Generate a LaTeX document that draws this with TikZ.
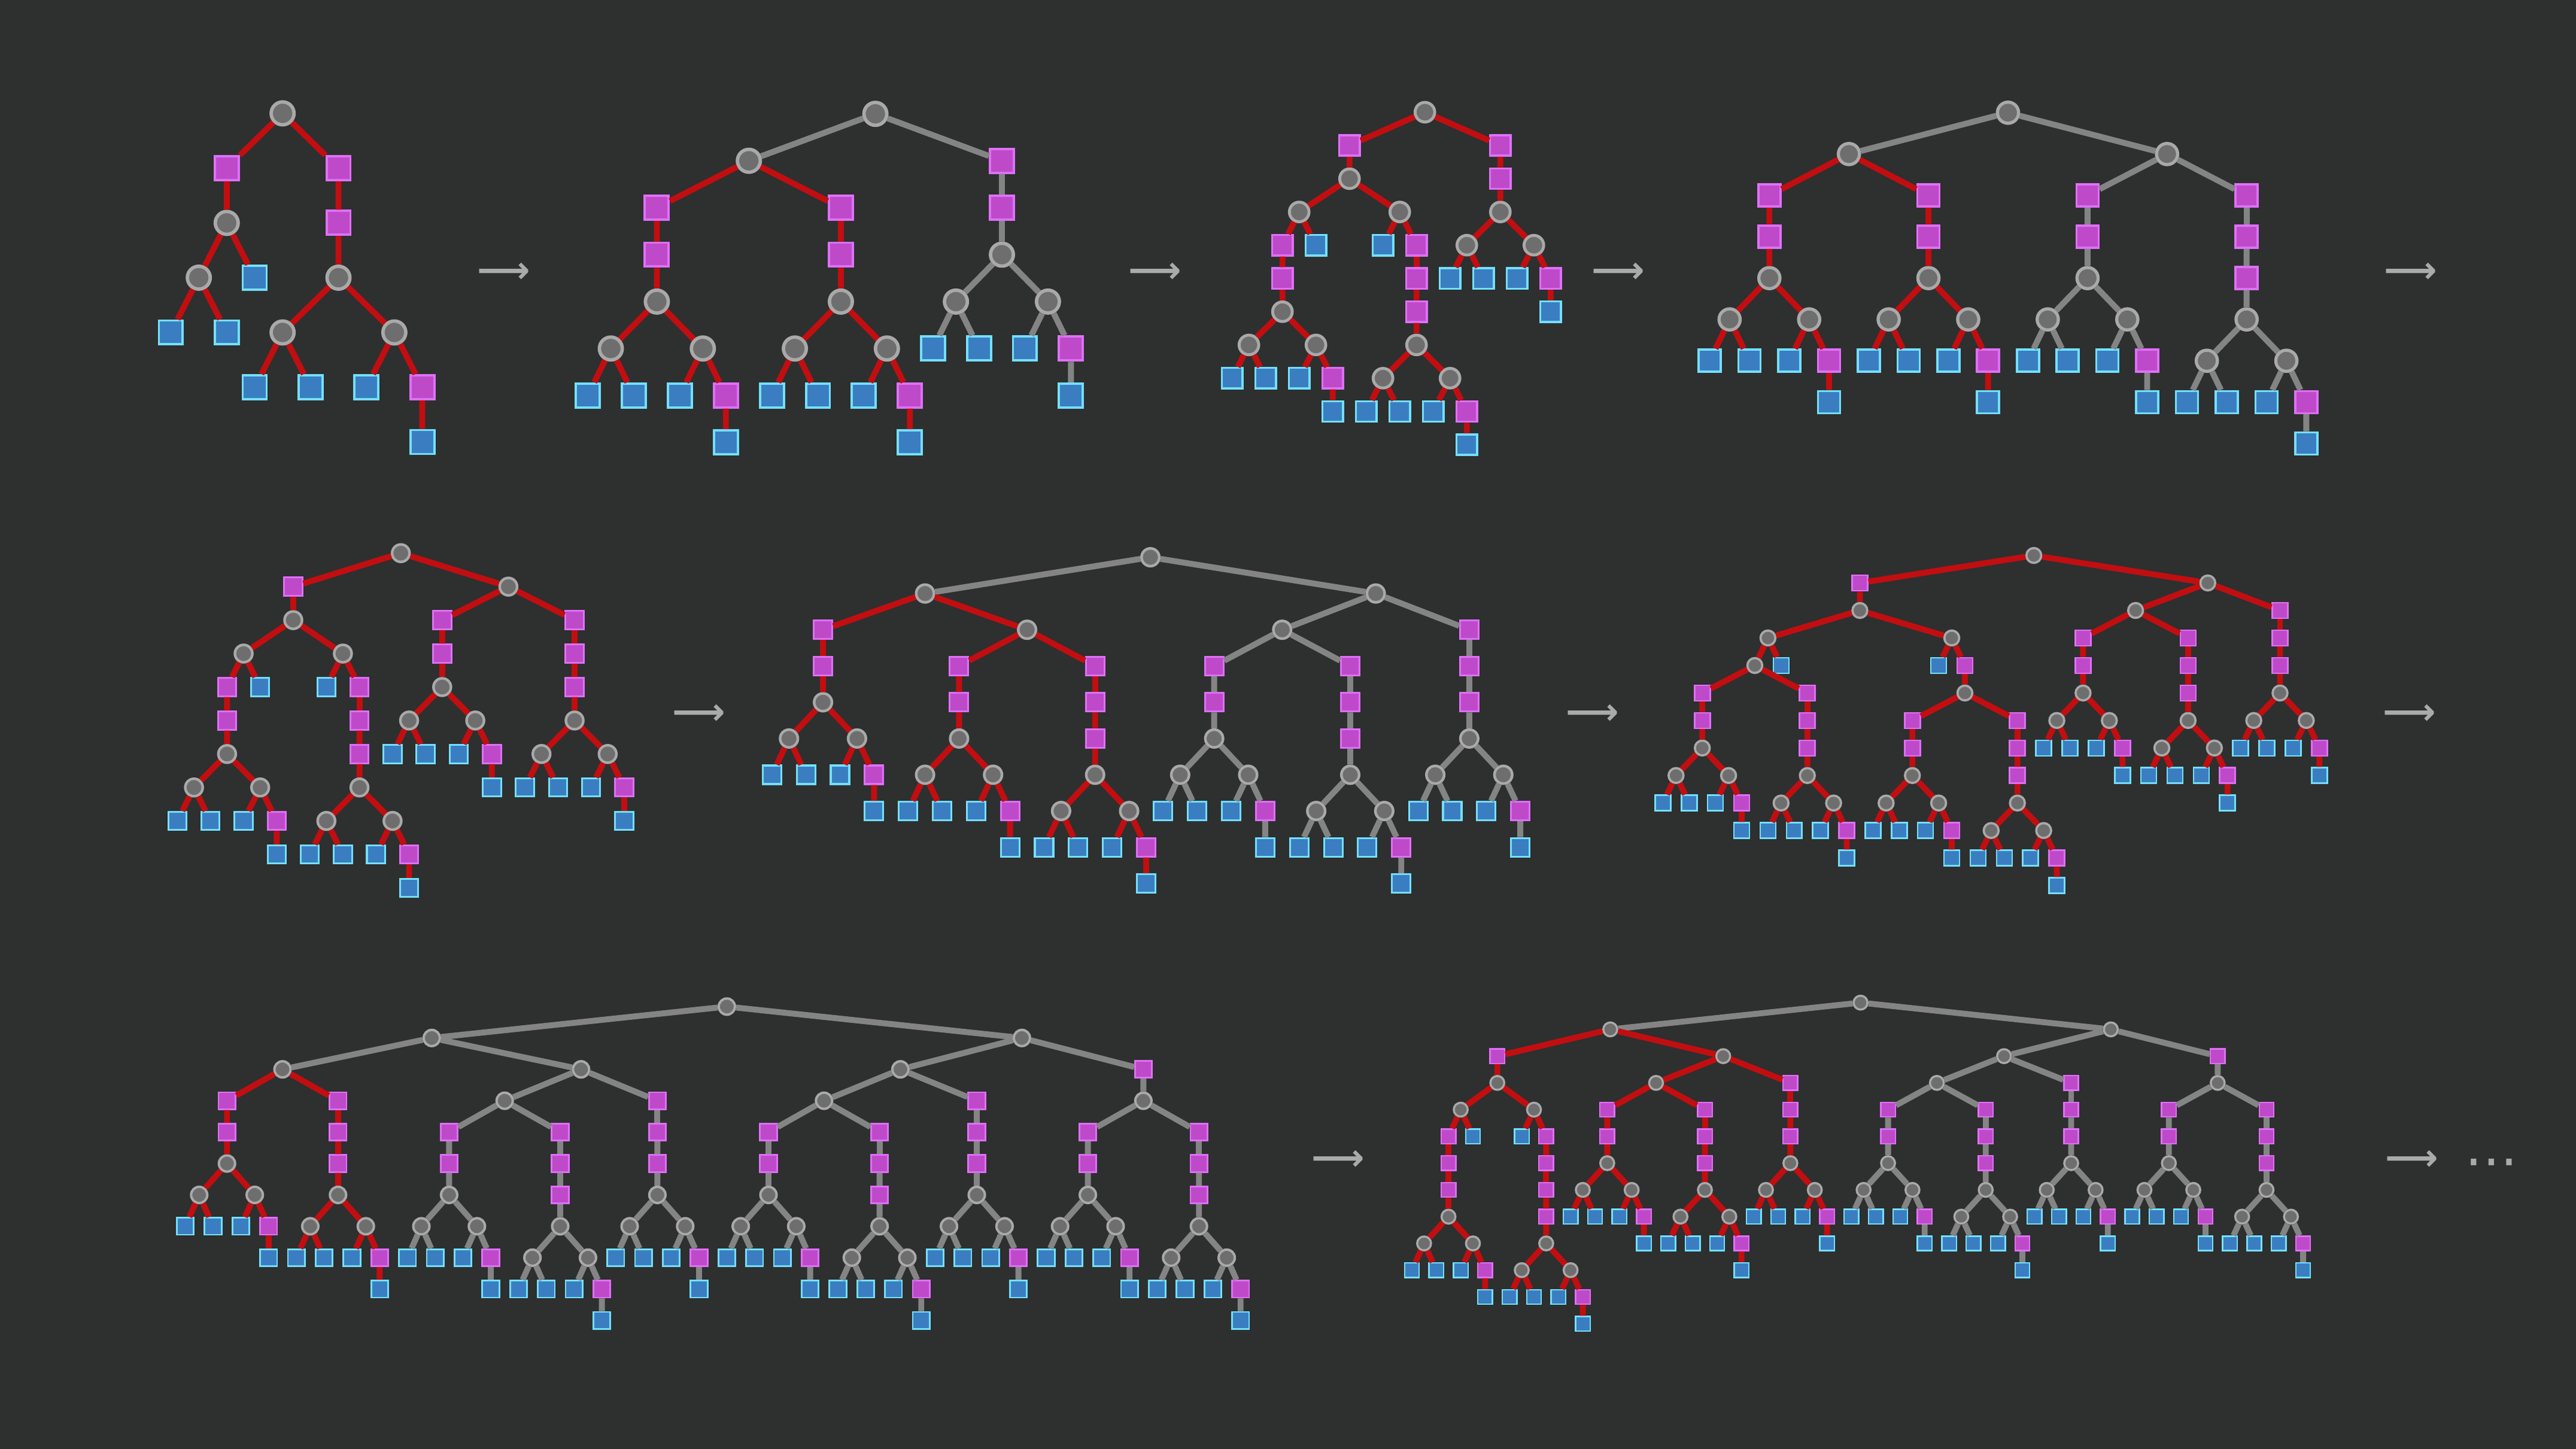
\documentclass[tikz,border=0pt]{standalone}
\usepackage{fontspec}
\newfontfamily\arrowfont{DejaVu Sans}

\definecolor{bgc}{HTML}{2E2F2F}
\definecolor{cnfill}{HTML}{6E6E6E}
\definecolor{cnline}{HTML}{A9A9A9}
\definecolor{mfill}{HTML}{BF4AC9}
\definecolor{mline}{HTML}{DD71F9}
\definecolor{bfill}{HTML}{3A7EC1}
\definecolor{bline}{HTML}{73E0FF}
\definecolor{redc}{HTML}{C10E11}
\definecolor{grayc}{HTML}{848484}
\definecolor{arrowc}{HTML}{AAAAAA}

\tikzset{
  nodesize/.store in=\sz, nodesize=4mm,
  cn/.style={circle, draw=cnline, fill=cnfill, line width=0.13*\sz, minimum size=0.87*\sz, inner sep=0pt},
  mn/.style={rectangle, draw=mline, fill=mfill, line width=0.09*\sz, minimum size=0.91*\sz, inner sep=0pt},
  bn/.style={rectangle, draw=bline, fill=bfill, line width=0.09*\sz, minimum size=0.91*\sz, inner sep=0pt},
  redge/.style={draw=redc, line width=0.09cm},
  gedge/.style={draw=grayc, line width=0.09cm},
  arrowtxt/.style={text=arrowc, font=\arrowfont\bfseries\fontsize{16}{16}\selectfont, inner sep=0pt},
  dotstxt/.style={text=arrowc, font=\arrowfont\fontsize{23}{23}\selectfont, inner sep=0pt}
}

% the repeated block: two squares, a circle and its two small forks
\newcommand\ysub[4]{%
  \node[mn] (#1a) at (#2,#3) {};
  \node[mn] (#1b) at (#2,#3+1) {};
  \node[cn] (#1c) at (#2,#3+2) {};
  \node[cn] (#1d) at (#2-2,#3+3) {};
  \node[bn] (#1e) at (#2-3,#3+4) {};
  \node[bn] (#1f) at (#2-1,#3+4) {};
  \node[cn] (#1g) at (#2+2,#3+3) {};
  \node[bn] (#1h) at (#2+1,#3+4) {};
  \node[mn] (#1i) at (#2+3,#3+4) {};
  \node[bn] (#1j) at (#2+3,#3+5) {};
  \draw[#4] (#1a) -- (#1b) -- (#1c) -- (#1d) -- (#1e) (#1d) -- (#1f)
    (#1c) -- (#1g) -- (#1h) (#1g) -- (#1i) -- (#1j);
}
% the same block with one more square on top
\newcommand\mysub[4]{%
  \node[mn] (#1m) at (#2,#3) {};
  \ysub{#1}{#2}{#3+1}{#4}
  \draw[#4] (#1m) -- (#1a);
}

\begin{document}
\begin{tikzpicture}[x=0.025cm, y=-0.025cm]
\path[use as bounding box, fill=bgc] (0,0) rectangle (1568,882);

% row 1
\begin{scope}[shift={(104,69)}, x=0.425cm, y=-0.8333cm, nodesize=4mm]
\node[cn] (t1r) at (4,0) {};
\node[mn] (t1a) at (2,1) {};
\node[cn] (t1b) at (2,2) {};
\node[cn] (t1c) at (1,3) {};
\node[bn] (t1d) at (0,4) {};
\node[bn] (t1e) at (2,4) {};
\node[bn] (t1f) at (3,3) {};
\ysub{t1p}{6}{1}{redge}
\draw[redge] (t1r) -- (t1a) -- (t1b) -- (t1c) -- (t1d) (t1c) -- (t1e) (t1b) -- (t1f) (t1r) -- (t1pa);
\end{scope}

\begin{scope}[shift={(357.8,69.3)}, x=0.35cm, y=-0.714cm, nodesize=4mm]
\node[cn] (t2r) at (12.5,0) {};
\node[cn] (t2l) at (7,1) {};
\ysub{t2p}{3}{2}{redge}
\ysub{t2q}{11}{2}{redge}
\ysub{t2s}{18}{1}{gedge}
\draw[gedge] (t2r) -- (t2l) (t2r) -- (t2sa);
\draw[redge] (t2l) -- (t2pa) (t2l) -- (t2qa);
\end{scope}

\begin{scope}[shift={(750,68.3)}, x=0.255cm, y=-0.5058cm, nodesize=3.43mm]
\node[cn] (t3r) at (11.5,0) {};
\node[mn] (t3a) at (7,1) {};
\node[cn] (t3b) at (7,2) {};
\node[cn] (t3c) at (4,3) {};
\node[cn] (t3d) at (10,3) {};
\node[bn] (t3e) at (5,4) {};
\node[bn] (t3f) at (9,4) {};
\ysub{t3p}{3}{4}{redge}
\mysub{t3q}{11}{4}{redge}
\ysub{t3s}{16}{1}{redge}
\draw[redge] (t3r) -- (t3a) -- (t3b) -- (t3c) -- (t3pa) (t3c) -- (t3e) (t3b) -- (t3d) -- (t3f) (t3d) -- (t3qm) (t3r) -- (t3sa);
\end{scope}

\begin{scope}[shift={(1040.7,68.6)}, x=0.3025cm, y=-0.629cm, nodesize=3.7mm]
\node[cn] (t4r) at (15,0) {};
\node[cn] (t4l) at (7,1) {};
\node[cn] (t4m) at (23,1) {};
\ysub{t4p}{3}{2}{redge}
\ysub{t4q}{11}{2}{redge}
\ysub{t4s}{19}{2}{gedge}
\mysub{t4u}{27}{2}{gedge}
\draw[gedge] (t4r) -- (t4l) (t4r) -- (t4m) -- (t4sa) (t4m) -- (t4um);
\draw[redge] (t4l) -- (t4pa) (t4l) -- (t4qa);
\end{scope}

% row 2
\begin{scope}[shift={(108,336.7)}, x=0.25175cm, y=-0.50925cm, nodesize=3.05mm]
\node[cn] (t5r) at (13.5,0) {};
\node[mn] (t5a) at (7,1) {};
\node[cn] (t5b) at (7,2) {};
\node[cn] (t5c) at (4,3) {};
\node[cn] (t5d) at (10,3) {};
\node[bn] (t5e) at (5,4) {};
\node[bn] (t5f) at (9,4) {};
\node[cn] (t5g) at (20,1) {};
\ysub{t5p}{3}{4}{redge}
\mysub{t5q}{11}{4}{redge}
\ysub{t5s}{16}{2}{redge}
\mysub{t5u}{24}{2}{redge}
\draw[redge] (t5r) -- (t5a) -- (t5b) -- (t5c) -- (t5pa) (t5c) -- (t5e) (t5b) -- (t5d) -- (t5f) (t5d) -- (t5qm) (t5r) -- (t5g) -- (t5sa) (t5g) -- (t5um);
\end{scope}

\begin{scope}[shift={(469.9,339.2)}, x=0.25875cm, y=-0.5515cm, nodesize=3.1mm]
\node[cn] (t6r) at (22.25,0) {};
\node[cn] (t6l) at (9,1) {};
\node[cn] (t6m) at (35.5,1) {};
\node[cn] (t6a) at (15,2) {};
\node[cn] (t6b) at (30,2) {};
\ysub{t6p}{3}{2}{redge}
\ysub{t6q}{11}{3}{redge}
\mysub{t6s}{19}{3}{redge}
\ysub{t6u}{26}{3}{gedge}
\mysub{t6v}{34}{3}{gedge}
\mysub{t6w}{41}{2}{gedge}
\draw[gedge] (t6r) -- (t6l) (t6r) -- (t6m) -- (t6b) -- (t6ua) (t6b) -- (t6vm) (t6m) -- (t6wm);
\draw[redge] (t6l) -- (t6pa) (t6l) -- (t6a) -- (t6qa) (t6a) -- (t6sm);
\end{scope}

\begin{scope}[shift={(1012.2,338.1)}, x=0.19975cm, y=-0.4185cm, nodesize=2.6mm]
\node[cn] (t7r) at (28.25,0) {};
\node[mn] (t7a) at (15,1) {};
\node[cn] (t7b) at (15,2) {};
\node[cn] (t7c) at (8,3) {};
\node[cn] (t7d) at (22,3) {};
\node[cn] (t7e) at (7,4) {};
\node[bn] (t7f) at (9,4) {};
\node[bn] (t7g) at (21,4) {};
\node[mn] (t7h) at (23,4) {};
\node[cn] (t7i) at (23,5) {};
\node[cn] (t7m) at (41.5,1) {};
\node[cn] (t7n) at (36,2) {};
\ysub{t7p}{3}{5}{redge}
\mysub{t7q}{11}{5}{redge}
\ysub{t7s}{19}{6}{redge}
\mysub{t7u}{27}{6}{redge}
\ysub{t7v}{32}{3}{redge}
\mysub{t7w}{40}{3}{redge}
\mysub{t7z}{47}{2}{redge}
\draw[redge] (t7r) -- (t7a) -- (t7b) -- (t7c) -- (t7e) -- (t7pa) (t7e) -- (t7qm) (t7c) -- (t7f)
  (t7b) -- (t7d) -- (t7g) (t7d) -- (t7h) -- (t7i) -- (t7sa) (t7i) -- (t7um)
  (t7r) -- (t7m) -- (t7n) -- (t7va) (t7n) -- (t7wm) (t7m) -- (t7zm);
\end{scope}

% row 3
\begin{scope}[shift={(112.8,612.7)}, x=0.21125cm, y=-0.4775cm, nodesize=2.83mm]
\node[cn] (t8r) at (39,0) {};
\node[cn] (t8l) at (17.75,1) {};
\node[cn] (t8m) at (60.25,1) {};
\node[cn] (t8a) at (7,2) {};
\node[cn] (t8b) at (28.5,2) {};
\node[cn] (t8c) at (23,3) {};
\node[cn] (t8d) at (51.5,2) {};
\node[cn] (t8e) at (46,3) {};
\node[mn] (t8f) at (69,2) {};
\node[cn] (t8g) at (69,3) {};
\ysub{t8p}{3}{3}{redge}
\mysub{t8q}{11}{3}{redge}
\ysub{t8s}{19}{4}{gedge}
\mysub{t8u}{27}{4}{gedge}
\mysub{t8v}{34}{3}{gedge}
\ysub{t8w}{42}{4}{gedge}
\mysub{t8x}{50}{4}{gedge}
\mysub{t8y}{57}{3}{gedge}
\ysub{t8z}{65}{4}{gedge}
\mysub{t8k}{73}{4}{gedge}
\draw[gedge] (t8r) -- (t8l) -- (t8a) (t8l) -- (t8b) -- (t8c) -- (t8sa) (t8c) -- (t8um) (t8b) -- (t8vm)
  (t8r) -- (t8m) -- (t8d) -- (t8e) -- (t8wa) (t8e) -- (t8xm) (t8d) -- (t8ym)
  (t8m) -- (t8f) -- (t8g) -- (t8za) (t8g) -- (t8km);
\draw[redge] (t8a) -- (t8pa) (t8a) -- (t8qm);
\end{scope}

\begin{scope}[shift={(859.4,610.3)}, x=0.18575cm, y=-0.407cm, nodesize=2.43mm]
\node[cn] (t9r) at (36.75,0) {};
\node[cn] (t9l) at (16.25,1) {};
\node[cn] (t9m) at (57.25,1) {};
\node[mn] (t9a) at (7,2) {};
\node[cn] (t9b) at (7,3) {};
\node[cn] (t9c) at (4,4) {};
\node[cn] (t9d) at (10,4) {};
\node[bn] (t9e) at (5,5) {};
\node[bn] (t9f) at (9,5) {};
\node[mn] (t9g) at (11,5) {};
\node[cn] (t9h) at (25.5,2) {};
\node[cn] (t9i) at (20,3) {};
\node[cn] (t9n) at (48.5,2) {};
\node[cn] (t9o) at (43,3) {};
\node[mn] (t9k) at (66,2) {};
\node[cn] (t9t) at (66,3) {};
\mysub{t9p}{3}{5}{redge}
\mysub{t9q}{11}{6}{redge}
\ysub{t9s}{16}{4}{redge}
\mysub{t9u}{24}{4}{redge}
\mysub{t9v}{31}{3}{redge}
\ysub{t9w}{39}{4}{gedge}
\mysub{t9x}{47}{4}{gedge}
\mysub{t9y}{54}{3}{gedge}
\ysub{t9z}{62}{4}{gedge}
\mysub{t9j}{70}{4}{gedge}
\draw[gedge] (t9r) -- (t9l) (t9r) -- (t9m) -- (t9n) -- (t9o) -- (t9wa) (t9o) -- (t9xm) (t9n) -- (t9ym)
  (t9m) -- (t9k) -- (t9t) -- (t9za) (t9t) -- (t9jm);
\draw[redge] (t9l) -- (t9a) -- (t9b) -- (t9c) -- (t9pm) (t9c) -- (t9e) (t9b) -- (t9d) -- (t9f) (t9d) -- (t9g) -- (t9qm)
  (t9l) -- (t9h) -- (t9i) -- (t9sa) (t9i) -- (t9um) (t9h) -- (t9vm);
\end{scope}

% arrows between the steps
\node[arrowtxt] (ar1) at (306.5,166) {⟶};
\node[arrowtxt] (ar2) at (703,166) {⟶};
\node[arrowtxt] (ar3) at (985,166) {⟶};
\node[arrowtxt] (ar4) at (1467.5,166) {⟶};
\node[arrowtxt] (ar5) at (425.5,435) {⟶};
\node[arrowtxt] (ar6) at (969.5,435) {⟶};
\node[arrowtxt] (ar7) at (1466.5,435) {⟶};
\node[arrowtxt] (ar8) at (814.5,706.5) {⟶};
\node[arrowtxt] (ar9) at (1468,706.5) {⟶};
\node[dotstxt] (dots) at (1516.4,711.5) {⋯};
\end{tikzpicture}
\end{document}
